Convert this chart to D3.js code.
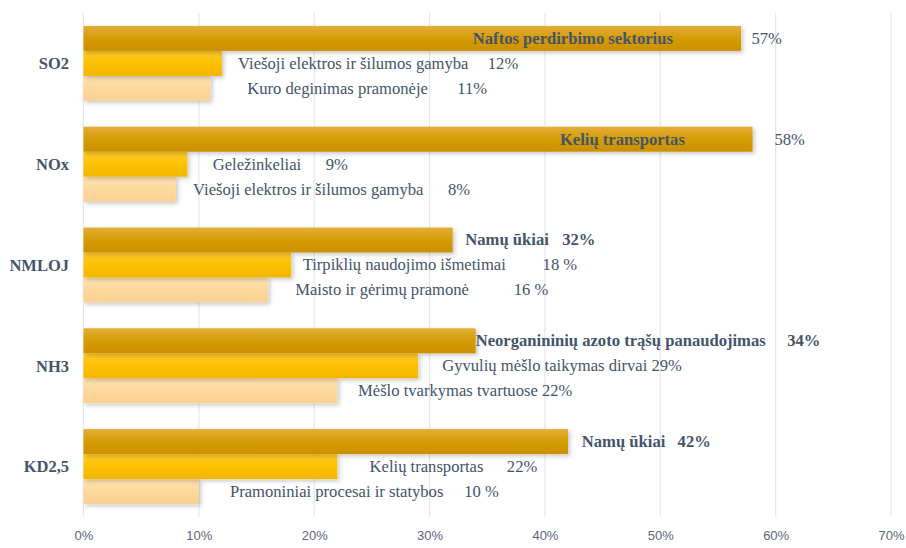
<!DOCTYPE html>
<html>
<head>
<meta charset="utf-8">
<script src="https://cdn.jsdelivr.net/npm/d3@7/dist/d3.min.js"></script>
<style>
  html, body { margin: 0; padding: 0; background: #fff; }
  svg { display: block; }
</style>
</head>
<body>
<svg id="chart" width="906" height="548"></svg>
<script>
// Pollutants (one group of three bars each)
const pollutants = ["SO2", "NOx", "NMLOJ", "NH3", "KD2,5"];

// Main emission sources per pollutant, ranked 1st, 2nd, 3rd
const sources1 = ["Naftos perdirbimo sektorius", "Kelių transportas", "Namų ūkiai", "Neorganininių azoto trąšų panaudojimas", "Namų ūkiai"];
const sources2 = ["Viešoji elektros ir šilumos gamyba", "Geležinkeliai", "Tirpiklių naudojimo išmetimai", "Gyvulių mėšlo taikymas dirvai", "Kelių transportas"];
const sources3 = ["Kuro deginimas pramonėje", "Viešoji elektros ir šilumos gamyba", "Maisto ir gėrimų pramonė", "Mėšlo tvarkymas tvartuose", "Pramoniniai procesai ir statybos"];

// Share of total emissions, %
const share1 = [57, 58, 32, 34, 42];
const share2 = [12, 9, 18, 29, 22];
const share3 = [11, 8, 16, 22, 10];

// Percent sign as printed in each value label
const suffix1 = ["%", "%", "%", "%", "%"];
const suffix2 = ["%", "%", " %", "%", "%"];
const suffix3 = ["%", "%", " %", "%", " %"];

// Axis ticks
const ticks = [0, 10, 20, 30, 40, 50, 60, 70];

// Label placement along the value axis (in %); null = value follows the name
const nameAt1 = [33.75, 41.3, 33.1, 34.0, 43.2];
const valueAt1 = [57.9, 59.9, 41.5, 61.0, 51.5];
const nameAt2 = [13.4, 11.2, 19.0, 31.1, 24.8];
const valueAt2 = [35.05, 21.0, 39.8, null, 36.7];
const nameAt3 = [14.2, 9.5, 18.35, 23.8, 12.7];
const valueAt3 = [32.4, 31.6, 37.3, null, 33.0];
// Leading labels drawn in bold
const bold1 = [true, true, true, true, true];
const boldValue1 = [false, false, true, true, true];

const ranks = ["r1", "r2", "r3"];

const rows = [];
pollutants.forEach((p, i) => {
  rows.push({ p, rank: "r1", name: sources1[i], v: share1[i], suf: suffix1[i], nameAt: nameAt1[i], valueAt: valueAt1[i], bold: bold1[i], boldV: boldValue1[i] });
  rows.push({ p, rank: "r2", name: sources2[i], v: share2[i], suf: suffix2[i], nameAt: nameAt2[i], valueAt: valueAt2[i], bold: false, boldV: false });
  rows.push({ p, rank: "r3", name: sources3[i], v: share3[i], suf: suffix3[i], nameAt: nameAt3[i], valueAt: valueAt3[i], bold: false, boldV: false });
});

const svg = d3.select("#chart");
const margin = { left: 83.5, right: 15, top: 13, bottom: 31 };
const W = 906, H = 548;

const x = d3.scaleLinear().domain([0, 70]).range([margin.left, 891]);
const y = d3.scaleBand().domain(pollutants).range([margin.top, H - margin.bottom])
  .paddingInner(0.256).paddingOuter(0.128);
const yIn = d3.scaleBand().domain(ranks).range([0, y.bandwidth()]);

const defs = svg.append("defs");
const grads = {
  r1: ["#E3AE3A", "#D59C06", "#CC9000"],
  r2: ["#FFCB2E", "#FDC100", "#F3B600"],
  r3: ["#FFE3B4", "#FDD89B", "#F8D195"]
};
Object.entries(grads).forEach(([k, c]) => {
  const g = defs.append("linearGradient").attr("id", "g" + k)
    .attr("x1", 0).attr("y1", 0).attr("x2", 0).attr("y2", 1);
  g.append("stop").attr("offset", "0%").attr("stop-color", c[0]);
  g.append("stop").attr("offset", "50%").attr("stop-color", c[1]);
  g.append("stop").attr("offset", "100%").attr("stop-color", c[2]);
});
const f = defs.append("filter").attr("id", "shadow")
  .attr("x", "-5%").attr("y", "-30%").attr("width", "115%").attr("height", "180%");
f.append("feDropShadow").attr("dx", 2).attr("dy", 2).attr("stdDeviation", 2)
  .attr("flood-color", "#000").attr("flood-opacity", 0.22);

// Vertical gridlines
svg.append("g")
  .selectAll("line").data(ticks).join("line")
  .attr("x1", d => x(d)).attr("x2", d => x(d))
  .attr("y1", margin.top).attr("y2", H - margin.bottom)
  .attr("stroke", "#E4E7EE").attr("stroke-width", 1.2);

// Bottom axis labels
const xAxis = d3.axisBottom(x).tickValues(ticks).tickFormat(d => d + "%").tickSize(0).tickPadding(0);
const ax = svg.append("g").attr("transform", `translate(0,${H - margin.bottom + 14})`).call(xAxis);
ax.select(".domain").remove();
ax.selectAll("text")
  .attr("font-family", "'Liberation Sans', Arial, sans-serif")
  .attr("font-size", 13).attr("fill", "#5E6676");

// Bars (drawn bottom rank first so the upper bar's shadow falls on the lower bar)
const bars = svg.append("g");
["r3", "r2", "r1"].forEach(rk => {
  bars.selectAll(".bar-" + rk).data(rows.filter(r => r.rank === rk)).join("rect")
    .attr("class", "bar-" + rk)
    .attr("x", x(0))
    .attr("y", d => y(d.p) + yIn(d.rank))
    .attr("width", d => x(d.v) - x(0))
    .attr("height", yIn.bandwidth())
    .attr("fill", `url(#g${rk})`)
    .attr("filter", "url(#shadow)");
});

// Category labels
svg.append("g").selectAll("text").data(pollutants).join("text")
  .attr("x", 69).attr("y", d => y(d) + y.bandwidth() / 2)
  .attr("dy", "0.35em").attr("text-anchor", "end")
  .attr("font-family", "'Liberation Serif', 'Times New Roman', serif")
  .attr("font-weight", "bold").attr("font-size", 16.5).attr("fill", "#44546A")
  .text(d => d);

// Source and value labels
const lab = svg.append("g")
  .attr("font-family", "'Liberation Serif', 'Times New Roman', serif")
  .attr("font-size", 16.6).attr("fill", "#44546A");
rows.forEach(d => {
  const cy = y(d.p) + yIn(d.rank) + yIn.bandwidth() / 2;
  const valText = d.v + d.suf;
  const t = lab.append("text")
    .attr("x", x(d.nameAt)).attr("y", cy).attr("dy", "0.33em")
    .attr("font-weight", d.bold ? "bold" : "normal")
    .text(d.name);
  if (d.valueAt == null) {
    t.append("tspan").text(" " + valText);
  } else {
    lab.append("text")
      .attr("x", x(d.valueAt)).attr("y", cy).attr("dy", "0.33em")
      .attr("font-weight", d.boldV ? "bold" : "normal")
      .text(valText);
  }
});
</script>
</body>
</html>
